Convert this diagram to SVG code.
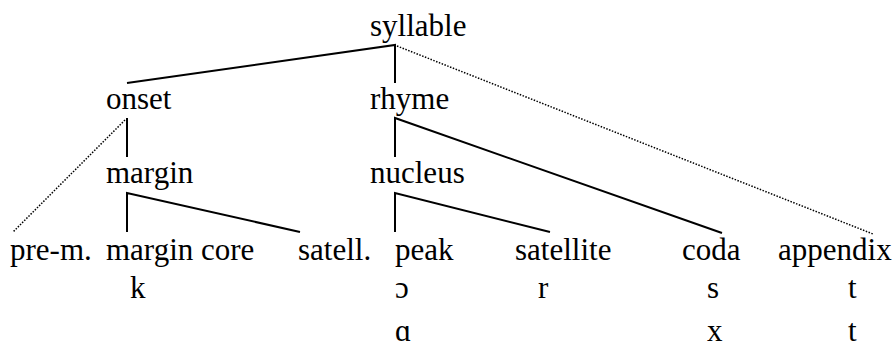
<svg xmlns="http://www.w3.org/2000/svg" width="895" height="343" viewBox="0 0 895 343">
<style>
text{font-family:'Liberation Serif','Times New Roman','DejaVu Serif',serif;font-size:31px;fill:#000}
.s{stroke:#000;stroke-width:2;fill:none}
.d{stroke:#000;stroke-width:1.5;fill:none;stroke-dasharray:1.5 1.5}
</style>
<rect width="895" height="343" fill="#fff"/>
<g id="connectors">
<polyline class="s" points="127,83 395,45 395,83"/>
<line class="d" x1="397" y1="46" x2="873" y2="234"/>
<line class="s" x1="127" y1="118" x2="127" y2="157"/>
<line class="d" x1="125" y1="120" x2="13" y2="232"/>
<polyline class="s" points="395,157 395,118 722,233"/>
<polyline class="s" points="127,232 127,193 300,232"/>
<polyline class="s" points="395,232 395,193 550,232"/>
</g>
<g font-family="Liberation Serif, serif" font-size="31">
<g id="syllable"><text x="370" y="36">syllable</text></g>
<g id="onset"><text x="106" y="109">onset</text></g>
<g id="rhyme"><text x="370" y="109">rhyme</text></g>
<g id="margin"><text x="106" y="183">margin</text></g>
<g id="nucleus"><text x="370" y="183">nucleus</text></g>
<g id="pre-m"><text x="10" y="260">pre-m.</text></g>
<g id="margin-core"><text x="106" y="260">margin core</text><text x="130" y="298">k</text></g>
<g id="satell"><text x="298" y="260">satell.</text></g>
<g id="peak"><text x="395" y="260">peak</text><text x="395" y="298">ɔ</text><text x="395" y="341">ɑ</text></g>
<g id="satellite"><text x="515" y="260">satellite</text><text x="538" y="298">r</text></g>
<g id="coda"><text x="682" y="260">coda</text><text x="707" y="298">s</text><text x="707" y="341">x</text></g>
<g id="appendix"><text x="778" y="260">appendix</text><text x="848" y="298">t</text><text x="848" y="341">t</text></g>
</g>
</svg>
